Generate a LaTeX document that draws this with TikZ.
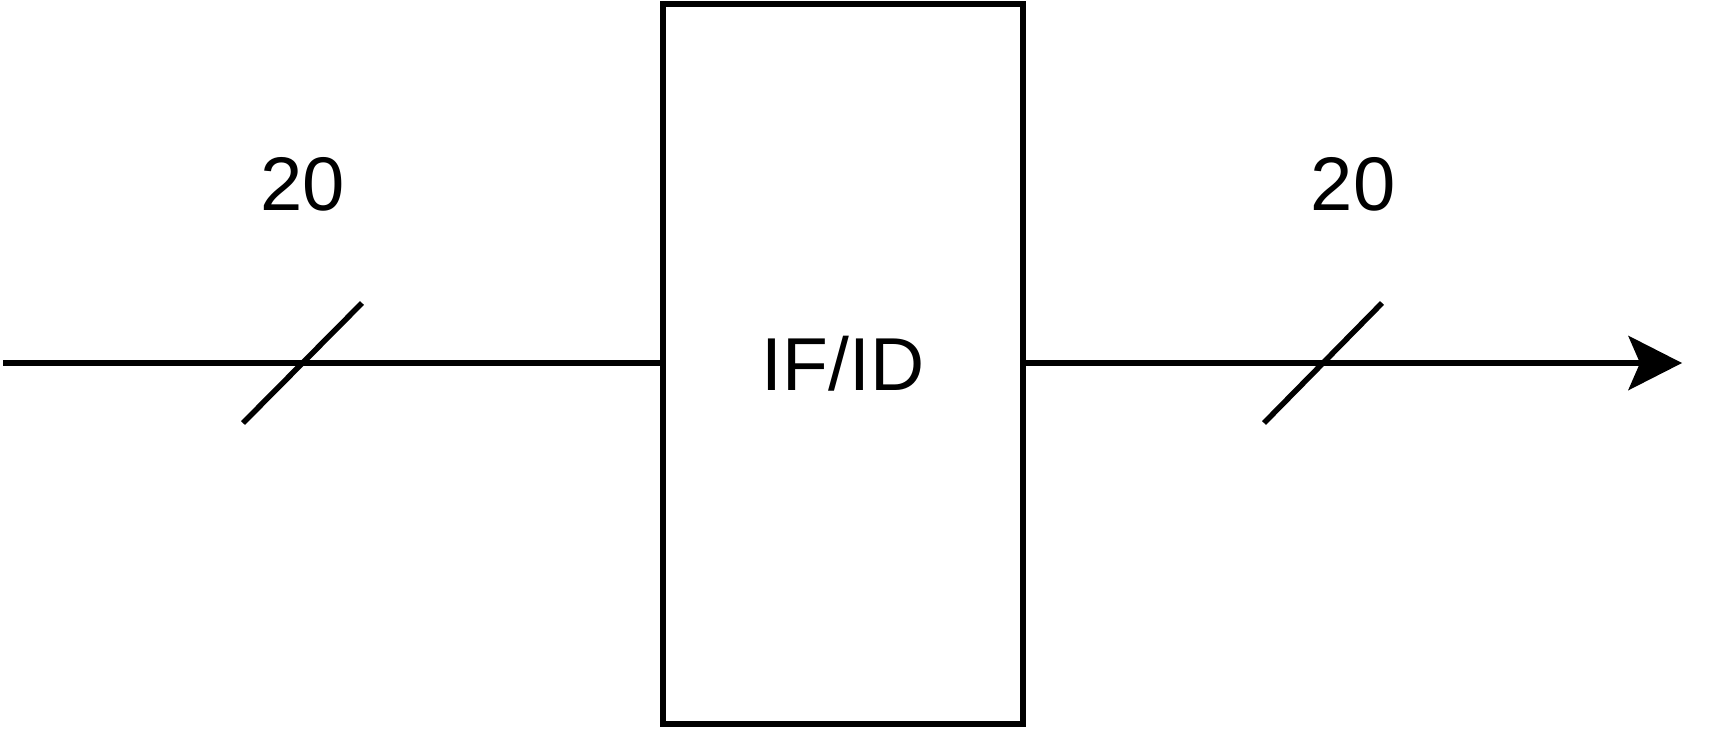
\documentclass[tikz,border=0pt]{standalone}
\usepackage{fontspec}
\setmainfont{Liberation Sans}
\usetikzlibrary{arrows.meta}
\begin{document}
\begin{tikzpicture}[x=1pt,y=-1pt,line width=6pt,
  regbox/.style={draw,rectangle,inner sep=0pt,minimum width=360pt,minimum height=720pt,font=\fontsize{75}{80}\selectfont},
  buslabel/.style={font=\fontsize{76}{80}\selectfont,inner sep=0pt},
  busmark/.style={line width=5.5pt}]
\useasboundingbox(0,0) rectangle (1734,732);
\node[regbox](ifid) at (843,363.5){IF/ID};
\coordinate(in) at (3,363);
\coordinate(out) at (1682,363);
\draw(in) -- (ifid.west|-in);
\draw[-{Stealth[length=54pt,width=55pt,inset=12pt,line width=0pt]}](ifid.east|-out) -- (out);
\draw[busmark](243,423) coordinate(la) -- (362,303) coordinate(lb);
\draw[busmark](1264,423) coordinate(ra) -- (1382,303) coordinate(rb);
\node[buslabel](lnum) at (303,184){20};
\node[buslabel](rnum) at (1353,184){20};
\end{tikzpicture}
\end{document}
